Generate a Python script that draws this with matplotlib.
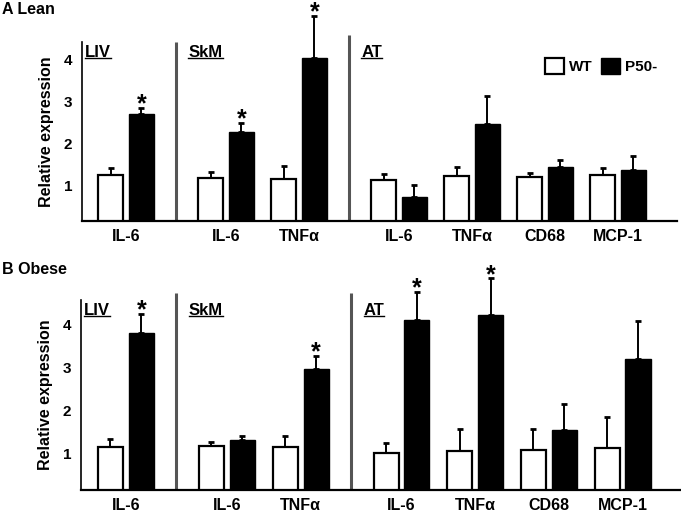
import matplotlib
matplotlib.use('Agg')
import matplotlib.pyplot as plt
import numpy as np
from matplotlib.lines import Line2D
from matplotlib.patches import Patch

plt.rcParams['font.family'] = ['Liberation Sans', 'DejaVu Sans']
plt.rcParams['font.weight'] = 'bold'
plt.rcParams['font.size'] = 10

# -------------------------- data --------------------------
genes = ['IL-6', 'IL-6', 'TNF\u03b1', 'IL-6', 'TNF\u03b1', 'CD68', 'MCP-1']
tissue_of_gene = ['LIV', 'SkM', 'SkM', 'AT', 'AT', 'AT', 'AT']
tissues = ['LIV', 'SkM', 'AT']

lean_wt = [1.24, 1.17, 1.14, 1.12, 1.21, 1.19, 1.24]
lean_wt_err = [0.16, 0.14, 0.31, 0.14, 0.22, 0.10, 0.16]
lean_p50 = [2.69, 2.26, 4.02, 0.71, 2.45, 1.43, 1.36]
lean_p50_err = [0.14, 0.22, 1.00, 0.29, 0.67, 0.17, 0.33]
lean_sig = [1, 1, 1, 0, 0, 0, 0]

obese_wt = [1.17, 1.19, 1.17, 1.02, 1.07, 1.09, 1.15]
obese_wt_err = [0.17, 0.10, 0.25, 0.24, 0.50, 0.48, 0.71]
obese_p50 = [3.82, 1.33, 2.97, 4.11, 4.23, 1.56, 3.22]
obese_p50_err = [0.43, 0.09, 0.31, 0.66, 0.85, 0.61, 0.87]
obese_sig = [1, 0, 1, 1, 1, 0, 0]

# -------------------------- layout --------------------------
group_gap = 0.37
group_idx = [tissues.index(t) for t in tissue_of_gene]
x = np.arange(len(genes)) + group_gap * np.array(group_idx)
bw = 0.34
off = 0.21

fig = plt.figure(figsize=(6.81, 5.16), dpi=100)


def panel(rect, ylim, xlim, wt, wt_err, p50, p50_err, sig, legend, div_tops):
    ax = fig.add_axes(rect)
    ax.bar(x - off, wt, bw, color='white', edgecolor='black', linewidth=1.6, zorder=2)
    ax.bar(x + off, p50, bw, color='black', edgecolor='black', linewidth=1.0, zorder=2)
    ax.errorbar(x - off, wt, yerr=[np.zeros(len(wt)), wt_err], fmt='none',
                ecolor='black', elinewidth=1.4, capsize=2.5, capthick=2, zorder=1, clip_on=False)
    ax.errorbar(x + off, p50, yerr=[np.zeros(len(p50)), p50_err], fmt='none',
                ecolor='black', elinewidth=1.4, capsize=2.5, capthick=2, zorder=1, clip_on=False)
    for i, s in enumerate(sig):
        if s:
            ax.annotate('*', xy=(x[i] + off, p50[i] + p50_err[i]), xytext=(0, -6),
                        textcoords='offset points', ha='center', va='bottom',
                        fontsize=18, fontweight='bold', annotation_clip=False)
    ax.set_xlim(*xlim)
    ax.set_ylim(*ylim)
    ax.set_xticks(x)
    ax.set_xticklabels(genes, fontweight='bold', fontsize=11.5)
    ax.set_yticks([1, 2, 3, 4])
    ax.set_yticklabels(['1', '2', '3', '4'], fontweight='bold', fontsize=11)
    ax.tick_params(axis='both', length=0)
    ax.tick_params(axis='x', pad=6)
    ax.tick_params(axis='y', pad=7)
    ax.set_ylabel('Relative expression', fontsize=11.5, fontweight='bold', labelpad=7)
    for side in ['top', 'right']:
        ax.spines[side].set_visible(False)
    ax.spines['left'].set_linewidth(1.2)
    ax.spines['bottom'].set_linewidth(1.6)

    # group dividers and tissue labels
    starts = [xlim[0]]
    for g in range(1, len(tissues)):
        prev = x[np.array(group_idx) == g - 1].max()
        nxt = x[np.array(group_idx) == g].min()
        xd = (prev + nxt) / 2
        starts.append(xd)
        ax.plot([xd, xd], [ylim[0], div_tops[g - 1]], color='#555555', lw=2.2,
                clip_on=False, solid_capstyle='butt')
    for t, xs in zip(tissues, starts):
        pad = 0.04 if t == 'LIV' else 0.17
        ax.annotate(t, xy=(xs + pad, 1), xycoords=('data', 'axes fraction'),
                    xytext=(0, -7.5), textcoords='offset points', ha='left', va='center',
                    fontsize=12, fontweight='bold')
    if legend:
        handles = [Patch(facecolor='white', edgecolor='black', linewidth=1.6),
                   Patch(facecolor='black', edgecolor='black')]
        ax.legend(handles, ['WT', 'P50-'], ncol=2, frameon=False, loc='upper right',
                  bbox_to_anchor=(0.99, 0.99), handlelength=1.25, handleheight=1.3,
                  handletextpad=0.35, columnspacing=0.5, prop={'weight': 'bold', 'size': 11})
    return ax


axA = panel([82 / 681, 1 - 221 / 516, 595 / 681, 179 / 516], (0.143, 4.405), (-0.603, 7.548),
            lean_wt, lean_wt_err, lean_p50, lean_p50_err, lean_sig, True, [4.405, 4.57])
axB = panel([81 / 681, 1 - 490 / 516, 599 / 681, 190 / 516], (0.163, 4.58), (-0.61, 7.52),
            obese_wt, obese_wt_err, obese_p50, obese_p50_err, obese_sig, False, [4.74, 4.74])

fig.text(0.003, 1 - 9 / 516, 'A Lean', fontsize=11.5, fontweight='bold', va='center')
fig.text(0.003, 1 - 269 / 516, 'B Obese', fontsize=11.5, fontweight='bold', va='center')

# underline the tissue labels
fig.canvas.draw()
r = fig.canvas.get_renderer()
inv = fig.transFigure.inverted()
for ax in (axA, axB):
    for t in ax.texts:
        if t.get_text() in tissues:
            bb = t.get_window_extent(r)
            (x0, y0), (x1, y1) = inv.transform([(bb.x0, bb.y0 + 2), (bb.x1, bb.y0 + 2)])
            fig.add_artist(Line2D([x0, x1], [y0, y1], color='black', lw=1.0,
                                  transform=fig.transFigure))

fig.savefig('out.png', dpi=100)
